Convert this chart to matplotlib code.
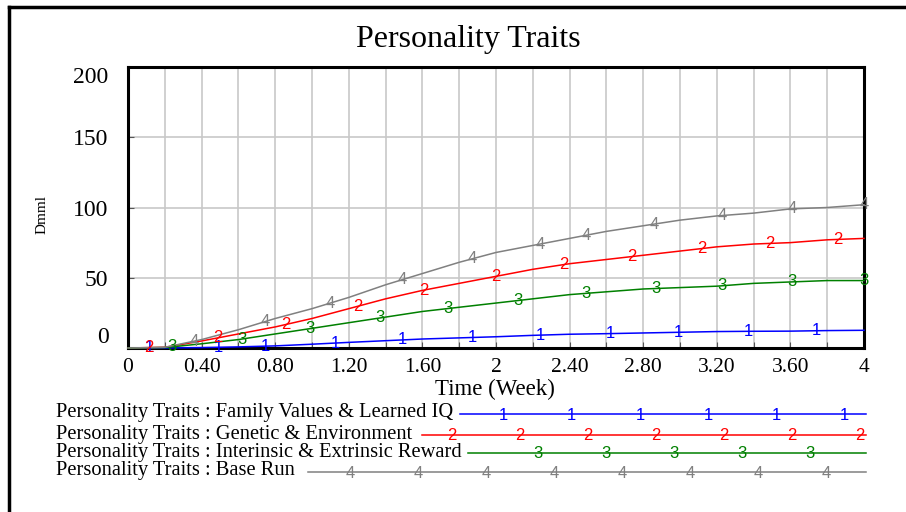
import numpy as np
import matplotlib
matplotlib.use("Agg")
import matplotlib.pyplot as plt
from matplotlib.lines import Line2D

# --- DATA ---
weeks = [0.0, 0.2, 0.4, 0.6, 0.8, 1.0, 1.2, 1.4, 1.6, 1.8, 2.0,
         2.2, 2.4, 2.6, 2.8, 3.0, 3.2, 3.4, 3.6, 3.8, 4.0]
family_values = [0, 0, 0.3, 0.8, 1.5, 2.7, 4.0, 5.2, 6.4, 7.2, 8.0,
                 9.0, 9.8, 10.2, 10.7, 11.2, 11.7, 11.9, 12.0, 12.4, 12.6]
genetic_env = [0, 0.5, 5, 10, 15, 21, 28, 35, 41, 46, 51,
               56, 60, 63, 66, 69, 72, 74, 75, 77, 78]
intrinsic_reward = [0, 0.3, 3, 6, 10, 14, 18, 22, 26, 29, 32,
                    35, 38, 40, 42, 43, 44, 46, 47, 48, 48]
base_run = [0, 0.5, 6, 13, 21, 28, 36, 45, 53, 61, 68,
            73, 78, 83, 87, 91, 94, 96, 99, 100, 102]

# where the run numbers sit along each curve
marks_1 = [0.115, 0.49, 0.745, 1.125, 1.49, 1.87, 2.24, 2.62, 2.99, 3.37, 3.74]
marks_2 = [0.115, 0.49, 0.86, 1.25, 1.61, 2.0, 2.37, 2.74, 3.12, 3.49, 3.86]
marks_3 = [0.237, 0.62, 0.99, 1.37, 1.74, 2.12, 2.49, 2.87, 3.23, 3.61, 4.0]
marks_4 = [0.36, 0.745, 1.1, 1.49, 1.87, 2.24, 2.49, 2.86, 3.23, 3.61, 4.0]

x_ticks = [0, 0.4, 0.8, 1.2, 1.6, 2.0, 2.4, 2.8, 3.2, 3.6, 4.0]
x_labels = ["0", "0.40", "0.80", "1.20", "1.60", "2", "2.40", "2.80", "3.20", "3.60", "4"]
y_ticks = [0, 50, 100, 150, 200]

legend_names = [
    "Personality Traits : Family Values & Learned IQ",
    "Personality Traits : Genetic & Environment",
    "Personality Traits : Interinsic & Extrinsic Reward",
    "Personality Traits : Base Run",
]

SERIF = "Liberation Serif"
SANS = "Liberation Sans"
W, H = 906, 512

series = [
    (family_values, marks_1, "#0000ff", "1"),
    (genetic_env, marks_2, "#ff0000", "2"),
    (intrinsic_reward, marks_3, "#008000", "3"),
    (base_run, marks_4, "#808080", "4"),
]


def fx(px):
    return px / W


def fy(py):
    return 1 - py / H


fig = plt.figure(figsize=(W / 100, H / 100), dpi=100)
fig.patch.set_facecolor("white")

# outer window frame (top and left edges)
fig.add_artist(Line2D([fx(9), fx(9)], [fy(7), fy(H + 5)], color="black", lw=2.5,
                      transform=fig.transFigure, solid_capstyle="projecting"))
fig.add_artist(Line2D([fx(9), fx(W + 5)], [fy(7), fy(7)], color="black", lw=2.5,
                      transform=fig.transFigure, solid_capstyle="projecting"))

ax = fig.add_axes([fx(128), fy(348), (864 - 128) / W, (348 - 67) / H])
ax.set_xlim(0, 4)
ax.set_ylim(0, 200)

ax.set_xticks(np.arange(0, 4.01, 0.2), minor=True)
ax.set_xticks(x_ticks)
ax.set_xticklabels(x_labels, fontfamily=SERIF, fontsize=15.5)
ax.set_yticks(y_ticks)
ax.set_yticklabels([str(v) for v in y_ticks], fontfamily=SERIF, fontsize=17)
ax.tick_params(axis="both", which="both", direction="in", length=4, width=0.8,
               color="#555555")
ax.tick_params(axis="x", pad=7)
ax.tick_params(axis="y", pad=14)
ylabs = ax.get_yticklabels()
ylabs[0].set_va("bottom")
ylabs[-1].set_va("top")

ax.grid(True, which="both", axis="x", color="#c8c8c8", lw=1.2)
ax.grid(True, which="major", axis="y", color="#c8c8c8", lw=1.2)
ax.set_axisbelow(True)
for side in ["left", "bottom", "right", "top"]:
    ax.spines[side].set_linewidth(2.2)
    ax.spines[side].set_color("black")

for values, marks, color, num in series:
    ax.plot(weeks, values, color=color, lw=1.1, clip_on=False, zorder=3)
    ys = np.interp(marks, weeks, values)
    for mx, my in zip(marks, ys):
        ax.text(mx, my, num, color=color, fontfamily=SANS, fontsize=12,
                ha="center", va="center", zorder=4, clip_on=False)

fig.text(fx(468), fy(39), "Personality Traits", fontfamily=SERIF, fontsize=23,
         ha="center", va="center")
fig.text(fx(495), fy(389), "Time (Week)", fontfamily=SERIF, fontsize=16.5,
         ha="center", va="center")
fig.text(fx(42), fy(215), "Dmml", fontfamily=SERIF, fontsize=11,
         ha="center", va="center", rotation=90)

# legend rows: label, sample line, run numbers
row_y = [413, 434, 452, 471]
line_x0 = [460, 422, 468, 308]
legend_marks = [
    [503, 571, 640, 708, 776, 844],
    [452, 520, 588, 656, 724, 792, 860],
    [538, 606, 674, 742, 810],
    [350, 418, 486, 554, 622, 690, 758, 826],
]
for (values, marks, color, num), name, ry, x0, lm in zip(series, legend_names, row_y,
                                                          line_x0, legend_marks):
    fig.text(fx(56), fy(ry), name, fontfamily=SERIF, fontsize=14.8,
             ha="left", va="center")
    fig.add_artist(Line2D([fx(x0), fx(866)], [fy(ry + 1), fy(ry + 1)], color=color,
                          lw=1.1, transform=fig.transFigure))
    for px in lm:
        fig.text(fx(px), fy(ry + 2), num, color=color, fontfamily=SANS, fontsize=12,
                 ha="center", va="center")

fig.savefig("out.png", dpi=100, facecolor="white")
